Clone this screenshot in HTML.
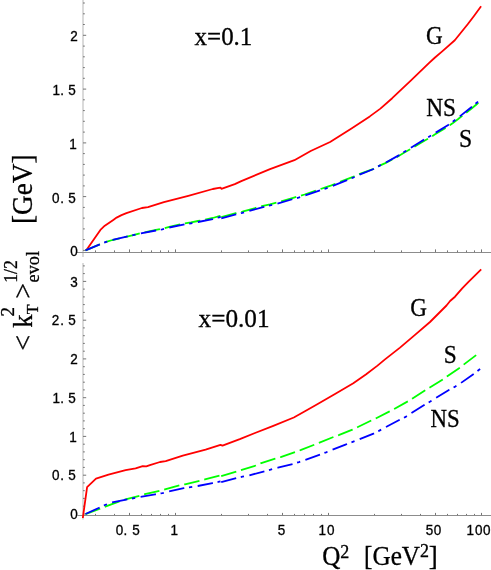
<!DOCTYPE html>
<html><head><meta charset="utf-8"><title>kT evolution</title>
<style>html,body{margin:0;padding:0;background:#fff;}svg{display:block;will-change:transform;}.s{font-family:"Liberation Sans",sans-serif;font-size:13.5px;fill:#000;stroke:#000;stroke-width:0.3px;}.t{font-family:"Liberation Serif",serif;fill:#000;stroke:#000;stroke-width:0.3px;}</style></head><body>
<svg width="491" height="570" viewBox="0 0 491 570">
<rect width="491" height="570" fill="#fff"/>
<rect x="82" y="0" width="2" height="257" fill="#dadada"/>
<rect x="82" y="263" width="2" height="256.5" fill="#dadada"/>
<rect x="77" y="252" width="414" height="1" fill="#8c8c8c"/>
<rect x="77.5" y="515" width="413.5" height="1" fill="#8c8c8c"/>
<path d="M83,250.4h3.2 M83,239.6h1.8 M83,228.9h1.8 M83,218.1h1.8 M83,207.4h1.8 M83,196.6h3.2 M83,185.9h1.8 M83,175.1h1.8 M83,164.4h1.8 M83,153.6h1.8 M83,142.9h3.2 M83,132.1h1.8 M83,121.3h1.8 M83,110.6h1.8 M83,99.8h1.8 M83,89.1h3.2 M83,78.3h1.8 M83,67.6h1.8 M83,56.8h1.8 M83,46.1h1.8 M83,35.3h3.2 M83,24.5h1.8 M83,13.8h1.8 M83,3.0h1.8 M83,514.0h3.2 M83,506.2h1.8 M83,498.4h1.8 M83,490.7h1.8 M83,482.9h1.8 M83,475.2h3.2 M83,467.4h1.8 M83,459.7h1.8 M83,451.9h1.8 M83,444.2h1.8 M83,436.4h3.2 M83,428.7h1.8 M83,420.9h1.8 M83,413.2h1.8 M83,405.4h1.8 M83,397.7h3.2 M83,389.9h1.8 M83,382.2h1.8 M83,374.4h1.8 M83,366.7h1.8 M83,358.9h3.2 M83,351.2h1.8 M83,343.4h1.8 M83,335.7h1.8 M83,327.9h1.8 M83,320.2h3.2 M83,312.4h1.8 M83,304.6h1.8 M83,296.9h1.8 M83,289.1h1.8 M83,281.4h3.2 M83,273.6h1.8 M83,265.9h1.8 M95.5,252.2v-1.8 M114.5,252.2v-1.8 M129.5,252.2v-2.8 M141.5,252.2v-1.8 M151.5,252.2v-1.8 M160.5,252.2v-1.8 M168.5,252.2v-1.8 M175.5,252.2v-2.8 M221.5,252.2v-1.8 M248.5,252.2v-1.8 M267.5,252.2v-1.8 M282.5,252.2v-2.8 M294.5,252.2v-1.8 M304.5,252.2v-1.8 M313.5,252.2v-1.8 M321.5,252.2v-1.8 M328.5,252.2v-2.8 M374.5,252.2v-1.8 M401.5,252.2v-1.8 M420.5,252.2v-1.8 M435.5,252.2v-2.8 M447.5,252.2v-1.8 M457.5,252.2v-1.8 M466.5,252.2v-1.8 M474.5,252.2v-1.8 M481.5,252.2v-2.8 M95.5,515.2v-1.3 M114.5,515.2v-1.3 M129.5,515.2v-2.3 M141.5,515.2v-1.3 M151.5,515.2v-1.3 M160.5,515.2v-1.3 M168.5,515.2v-1.3 M175.5,515.2v-2.3 M221.5,515.2v-1.3 M248.5,515.2v-1.3 M267.5,515.2v-1.3 M282.5,515.2v-2.3 M294.5,515.2v-1.3 M304.5,515.2v-1.3 M313.5,515.2v-1.3 M321.5,515.2v-1.3 M328.5,515.2v-2.3 M374.5,515.2v-1.3 M401.5,515.2v-1.3 M420.5,515.2v-1.3 M435.5,515.2v-2.3 M447.5,515.2v-1.3 M457.5,515.2v-1.3 M466.5,515.2v-1.3 M474.5,515.2v-1.3 M481.5,515.2v-2.3" stroke="#757575" stroke-width="1" fill="none"/>
<path d="M86.1,250.4 L100.4,229.9 L104.8,225.7 L113.3,219.9 L116.6,217.6 L121.5,215.1 L126.4,213.1 L141.9,208.0 L148.0,207.2 L163.9,202.2 L188.3,195.9 L212.8,189.0 L218.9,187.9 L220.6,187.6 L221.4,188.9 L234.8,184.1 L241.3,181.1 L270.0,169.1 L294.4,160.2 L310.7,151.0 L330.1,142.0 L351.5,128.5 L369.8,116.4 L380.4,108.6 L392.2,98.2 L410.5,80.9 L428.9,63.2 L435.0,57.5 L442.5,51.1 L454.8,40.3 L467.7,24.2 L473.8,16.2 L481.1,6.3" stroke="#ff0000" stroke-width="1.8" fill="none" stroke-linejoin="round"/>
<path d="M85.5,250.4 L99.9,244.3 L106.1,241.9 L112.4,240.0 L128.0,236.4 L134.2,234.9 L140.6,233.2 L155.9,229.9 L162.3,228.7 L169.3,226.8 L184.6,223.5 L191.0,222.4 L198.0,221.0 L212.7,218.0 L219.2,216.1 L220.7,215.7" stroke="#00ff00" stroke-width="1.8" fill="none" stroke-dasharray="15.7 4.95" />
<path d="M221.3,217.2 L235.9,213.2 L242.4,211.6 L248.8,209.8 L263.0,205.9 L270.0,204.3 L276.9,202.5 L293.2,197.8 L298.5,196.4 L304.6,194.5 L320.0,189.2 L326.2,187.1 L331.4,185.3 L347.1,179.2 L353.0,176.9 L359.2,174.2 L373.6,168.9 L379.1,165.9 L385.3,163.1 L398.7,156.0 L404.4,152.6 L410.4,149.0 L419.8,143.6 L425.3,140.2 L430.2,137.4 L435.1,134.3 L447.8,126.6 L453.3,122.7 L458.5,118.8 L472.2,108.0 L476.7,104.2 L481.0,100.8" stroke="#00ff00" stroke-width="1.8" fill="none" stroke-dasharray="15.7 4.95" />
<path d="M85.5,250.4 L99.9,244.3 L106.1,241.9 L112.4,240.0 L128.0,236.4 L134.2,234.9 L140.6,233.5 L155.9,230.5 L162.3,229.3 L169.3,227.5 L184.6,224.4 L191.0,223.3 L198.0,222.0 L212.7,219.1 L219.2,217.3 L220.7,216.9" stroke="#0000ff" stroke-width="1.8" fill="none" stroke-dasharray="15.5 4.75 3.3 5.5" />
<path d="M221.3,218.4 L235.9,214.4 L242.4,212.8 L248.8,211.0 L263.0,207.1 L270.0,205.5 L276.9,203.7 L293.2,199.0 L298.5,197.6 L304.6,195.7 L320.0,190.4 L326.2,188.3 L331.4,186.4 L347.1,180.1 L353.0,177.7 L359.2,174.8 L373.6,169.0 L379.1,165.9 L385.3,162.9 L398.7,155.4 L404.4,151.8 L410.4,148.0 L419.8,142.3 L425.3,138.9 L430.2,136.1 L435.1,133.0 L447.8,125.2 L453.3,121.3 L458.5,117.4 L472.2,106.6 L476.7,102.7 L481.0,99.3" stroke="#0000ff" stroke-width="1.8" fill="none" stroke-dasharray="15.5 4.75 3.3 5.5" />
<path d="M85.5,514.2 L99.4,509.0 L105.2,506.7 L115.4,502.8 L125.5,499.3 L140.5,495.5 L144.9,494.2 L160.0,490.7 L164.9,489.4 L179.6,485.3 L185.0,484.3 L199.7,480.7 L204.9,479.4 L220.3,475.4" stroke="#00ff00" stroke-width="1.8" fill="none" stroke-dasharray="15.7 4.95" />
<path d="M221.2,476.1 L236.3,471.7 L240.4,470.3 L255.9,465.5 L260.5,463.3 L275.2,458.6 L280.7,457.1 L295.3,452.0 L300.5,450.2 L314.6,444.6 L319.5,442.7 L334.2,436.7 L338.7,435.2 L352.4,429.7 L357.4,427.3 L371.3,420.5 L376.2,418.2 L389.6,411.4 L394.2,409.0 L408.0,401.3 L412.5,398.5 L425.7,390.0 L430.2,387.3 L443.3,379.1 L447.3,376.2 L459.9,367.7 L464.0,364.4 L476.7,354.7 L479.6,352.5" stroke="#00ff00" stroke-width="1.8" fill="none" stroke-dasharray="15.7 4.95" />
<path d="M85.5,514.0 L99.2,507.7 L105.4,504.8 L112.0,502.4 L125.0,499.8 L133.1,498.3 L140.5,496.8 L155.1,494.4 L162.5,493.1 L169.0,491.5 L183.7,488.2 L190.7,487.1 L197.7,486.0 L212.4,483.1 L219.2,481.7 L220.5,481.5" stroke="#0000ff" stroke-width="1.8" fill="none" stroke-dasharray="15.5 4.75 3.3 5.5" />
<path d="M221.2,482.2 L236.3,478.2 L242.4,476.6 L249.4,475.3 L264.8,471.2 L270.6,469.6 L277.9,467.7 L292.6,464.1 L299.0,462.1 L305.4,459.8 L320.0,454.6 L326.1,452.3 L332.0,449.9 L345.5,444.6 L359.7,439.2 L373.5,433.7 L379.4,430.6 L385.4,427.3 L399.2,420.0 L405.6,416.9 L411.3,413.2 L424.8,404.7 L430.2,401.6 L435.4,398.3 L449.3,389.7 L454.7,386.9 L459.9,383.7 L473.7,373.9 L479.1,369.8 L481.0,368.3" stroke="#0000ff" stroke-width="1.8" fill="none" stroke-dasharray="15.5 4.75 3.3 5.5" />
<path d="M82.8,518.0 L87.1,487.1 L96.0,478.7 L108.5,474.7 L125.6,470.2 L135.6,468.4 L142.7,466.1 L146.3,466.4 L149.9,465.2 L160.0,462.0 L165.7,461.1 L182.8,455.7 L205.6,449.7 L220.5,444.9 L222.5,445.7 L239.8,439.2 L255.0,433.0 L273.3,425.8 L293.8,417.5 L304.5,411.5 L316.4,404.8 L335.0,394.0 L353.3,383.3 L366.2,374.2 L377.5,365.6 L385.0,359.4 L400.0,347.6 L415.0,334.9 L430.0,322.0 L446.5,305.5 L450.1,301.0 L455.0,296.7 L462.2,288.3 L468.5,281.8 L481.2,269.3" stroke="#ff0000" stroke-width="1.8" fill="none" stroke-linejoin="round"/>
<text class="s" x="70.17" y="0" transform="translate(0,41.15) scale(1,1.07)" xml:space="preserve">2</text>
<text class="s" x="52.40 60.37 65.00 68.36" y="0" transform="translate(0,94.85) scale(1,1.07)" xml:space="preserve">1. 5</text>
<text class="s" x="69.35" y="0" transform="translate(0,148.95) scale(1,1.07)" xml:space="preserve">1</text>
<text class="s" x="51.97 60.37 65.00 68.36" y="0" transform="translate(0,202.55) scale(1,1.07)" xml:space="preserve">0. 5</text>
<text class="s" x="70.32" y="0" transform="translate(0,256.45) scale(1,1.07)" xml:space="preserve">0</text>
<text class="s" x="70.34" y="0" transform="translate(0,287.15) scale(1,1.07)" xml:space="preserve">3</text>
<text class="s" x="51.82 60.37 65.00 68.36" y="0" transform="translate(0,325.45) scale(1,1.07)" xml:space="preserve">2. 5</text>
<text class="s" x="70.17" y="0" transform="translate(0,364.05) scale(1,1.07)" xml:space="preserve">2</text>
<text class="s" x="52.40 60.37 65.00 68.36" y="0" transform="translate(0,402.65) scale(1,1.07)" xml:space="preserve">1. 5</text>
<text class="s" x="69.35" y="0" transform="translate(0,441.75) scale(1,1.07)" xml:space="preserve">1</text>
<text class="s" x="51.97 60.37 65.00 68.36" y="0" transform="translate(0,479.85) scale(1,1.07)" xml:space="preserve">0. 5</text>
<text class="s" x="70.32" y="0" transform="translate(0,519.10) scale(1,1.07)" xml:space="preserve">0</text>
<text class="s" x="115.67 123.47 128.00 132.16" y="0" transform="translate(0,535.10) scale(1,1.07)" xml:space="preserve">0. 5</text>
<text class="s" x="170.50" y="0" transform="translate(0,535.10) scale(1,1.07)" xml:space="preserve">1</text>
<text class="s" x="277.86" y="0" transform="translate(0,535.10) scale(1,1.07)" xml:space="preserve">5</text>
<text class="s" x="318.60 327.07" y="0" transform="translate(0,535.10) scale(1,1.07)" xml:space="preserve">10</text>
<text class="s" x="425.81 433.87" y="0" transform="translate(0,535.10) scale(1,1.07)" xml:space="preserve">50</text>
<text class="s" x="466.60 474.97 482.97" y="0" transform="translate(0,535.10) scale(1,1.07)" xml:space="preserve">100</text>
<text class="t" font-size="25.6" transform="translate(194.6,45.2) scale(0.975,1)">x=0.1</text>
<text class="t" font-size="25.6" transform="translate(198.6,327.0) scale(0.985,1)">x=0.01</text>
<text class="t" font-size="24.6" transform="translate(426.0,44.0) scale(0.94,1)">G</text>
<text class="t" font-size="24.6" transform="translate(426.2,116.0) scale(0.95,1)">NS</text>
<text class="t" font-size="24.6" transform="translate(459.0,147.0) scale(0.965,1)">S</text>
<text class="t" font-size="24.6" transform="translate(410.2,315.5) scale(0.94,1)">G</text>
<text class="t" font-size="24.6" transform="translate(443.7,363.0) scale(0.95,1)">S</text>
<text class="t" font-size="24.6" transform="translate(430.5,427.2) scale(0.93,1)">NS</text>
<text class="t" font-size="27" transform="translate(322.3,564.6) scale(0.93,1)">Q</text>
<text class="t" font-size="18" transform="translate(340.2,557.9) scale(1.0,1)">2</text>
<text class="t" font-size="27" transform="translate(364.0,564.6) scale(0.935,1)">[GeV</text>
<text class="t" font-size="18" transform="translate(419.9,557.0) scale(1.0,1)">2</text>
<text class="t" font-size="27" transform="translate(428.7,564.6) scale(1.0,1)">]</text>
<text class="t" font-size="29" transform="translate(32.3,224.0) rotate(-90) scale(0.94,1)">[GeV]</text>
<text class="t" font-size="28" transform="translate(31.6,350.7) rotate(-90) scale(1.0,1)">&lt;</text>
<text class="t" font-size="28" transform="translate(31.5,327.8) rotate(-90) scale(0.95,1)">k</text>
<text class="t" font-size="19" transform="translate(13.6,316.6) rotate(-90) scale(1.0,1)">2</text>
<text class="t" font-size="16" transform="translate(38.1,314.2) rotate(-90) scale(1.0,1)">T</text>
<text class="t" font-size="28" transform="translate(31.6,298.8) rotate(-90) scale(1.0,1)">&gt;</text>
<text class="t" font-size="19" transform="translate(17.1,282.8) rotate(-90) scale(0.93,1)">1/2</text>
<text class="t" font-size="19" transform="translate(39.4,282.4) rotate(-90) scale(0.96,1)">evol</text>
</svg></body></html>
